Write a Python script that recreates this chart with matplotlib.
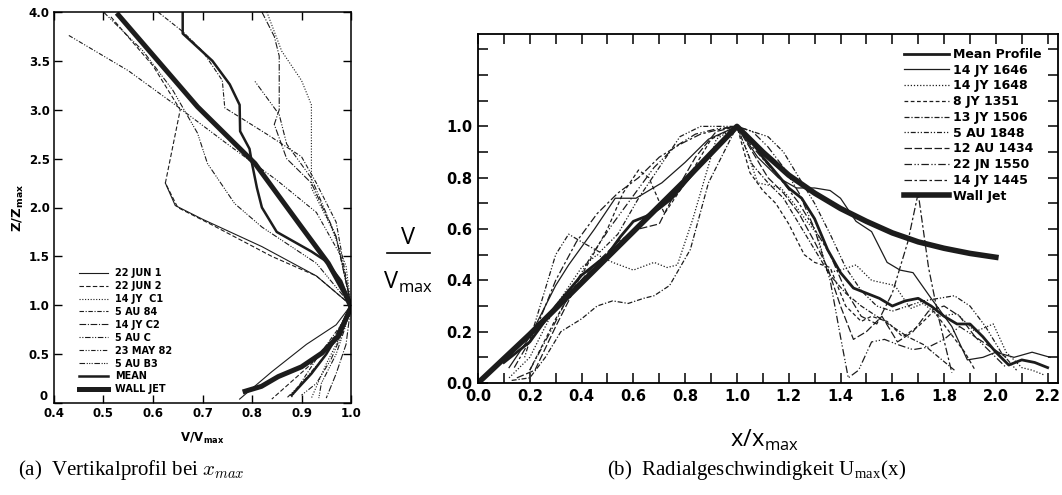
import matplotlib
matplotlib.use("Agg")
import matplotlib.pyplot as plt
from matplotlib.lines import Line2D
from matplotlib.ticker import MultipleLocator, FuncFormatter

plt.rcParams['font.family'] = ['DejaVu Sans']
plt.rcParams['mathtext.fontset'] = 'cm'

INK = '#1c1c1c'

# ---------------------------------------------------------------- (a) vertical profile data  (V/Vmax, Z/Zmax)
jun22_1_v = [0.625, 0.645, 0.70, 0.82, 0.93, 1.00, 0.97, 0.91, 0.84, 0.775]
jun22_1_z = [2.25, 2.02, 1.88, 1.60, 1.30, 1.00, 0.80, 0.60, 0.32, 0.04]
jun22_2_v = [0.515, 0.60, 0.655, 0.625, 0.65, 0.72, 0.84, 0.93, 1.00, 0.97, 0.92, 0.84]
jun22_2_z = [3.95, 3.45, 3.00, 2.25, 2.00, 1.82, 1.50, 1.30, 1.00, 0.70, 0.40, 0.04]
jyc1_v = [0.83, 0.86, 0.90, 0.92, 0.92, 0.92, 0.96, 0.99, 1.00, 0.98, 0.95, 0.92]
jyc1_z = [4.00, 3.60, 3.30, 3.05, 2.60, 2.20, 1.80, 1.40, 1.00, 0.70, 0.40, 0.05]
au84_v = [0.61, 0.66, 0.70, 0.74, 0.745, 0.83, 0.90, 0.93, 0.97, 1.00, 0.98, 0.93, 0.88]
au84_z = [4.00, 3.80, 3.60, 3.30, 3.02, 2.75, 2.52, 2.25, 1.85, 1.00, 0.80, 0.45, 0.06]
jyc2_v = [0.82, 0.845, 0.855, 0.855, 0.845, 0.87, 0.92, 0.97, 1.00, 0.99, 0.97, 0.95]
jyc2_z = [4.00, 3.75, 3.55, 3.00, 2.85, 2.50, 2.25, 1.70, 1.00, 0.60, 0.30, 0.05]
auc_v = [0.806, 0.855, 0.87, 0.92, 0.97, 1.00, 0.985, 0.96, 0.93, 0.90]
auc_z = [3.29, 2.95, 2.65, 2.30, 1.70, 1.00, 0.75, 0.45, 0.20, 0.08]
may82_v = [0.43, 0.55, 0.645, 0.75, 0.85, 0.93, 0.98, 1.00, 0.98, 0.95, 0.90, 0.87]
may82_z = [3.76, 3.40, 3.05, 2.65, 2.28, 1.95, 1.50, 1.00, 0.80, 0.50, 0.20, 0.05]
aub3_v = [0.50, 0.58, 0.64, 0.69, 0.71, 0.765, 0.82, 0.93, 1.00, 0.99, 0.97, 0.94, 0.935]
aub3_z = [4.00, 3.60, 3.20, 2.76, 2.45, 2.04, 1.80, 1.43, 1.00, 0.80, 0.50, 0.20, 0.05]
mean_v = [0.66, 0.66, 0.72, 0.755, 0.775, 0.776, 0.795, 0.80, 0.81, 0.82, 0.85, 0.92, 0.95, 0.98, 1.00,
          0.98, 0.95, 0.92, 0.88]
mean_z = [4.00, 3.78, 3.50, 3.26, 3.05, 2.78, 2.60, 2.45, 2.20, 2.00, 1.75, 1.55, 1.45, 1.25, 1.00,
          0.75, 0.50, 0.30, 0.08]
wj_v = [0.53, 0.69, 0.806, 0.90, 0.954, 0.988, 1.00, 0.974, 0.941, 0.90, 0.853, 0.819, 0.786]
wj_z = [3.97, 3.03, 2.45, 1.80, 1.43, 1.12, 0.98, 0.68, 0.51, 0.37, 0.27, 0.17, 0.12]

# ---------------------------------------------------------------- (b) radial profile data  (x/xmax, V/Vmax)
mp_x = [0.10, 0.20, 0.30, 0.40, 0.50, 0.55, 0.60, 0.65, 0.70, 0.75, 0.80, 0.90, 1.00, 1.05, 1.10, 1.20, 1.25,
        1.30, 1.35, 1.40, 1.45, 1.50, 1.55, 1.60, 1.65, 1.70, 1.75, 1.80, 1.85, 1.90, 1.95, 2.00, 2.05, 2.10,
        2.15, 2.20]
mp_y = [0.08, 0.16, 0.30, 0.42, 0.50, 0.57, 0.63, 0.65, 0.68, 0.72, 0.78, 0.90, 1.00, 0.95, 0.88, 0.76, 0.72,
        0.64, 0.52, 0.43, 0.37, 0.35, 0.33, 0.30, 0.32, 0.33, 0.30, 0.26, 0.23, 0.23, 0.18, 0.12, 0.07, 0.09,
        0.08, 0.06]
jy1646_x = [0.12, 0.20, 0.30, 0.35, 0.45, 0.53, 0.61, 0.71, 0.80, 0.89, 1.00, 1.08, 1.16, 1.23, 1.30, 1.36,
            1.40, 1.46, 1.52, 1.58, 1.63, 1.68, 1.75, 1.83, 1.89, 1.95, 2.00, 2.07, 2.14, 2.21]
jy1646_y = [0.06, 0.18, 0.38, 0.46, 0.60, 0.72, 0.72, 0.78, 0.86, 0.95, 1.00, 0.88, 0.80, 0.76, 0.76, 0.75,
            0.72, 0.63, 0.59, 0.47, 0.44, 0.43, 0.33, 0.22, 0.09, 0.10, 0.12, 0.10, 0.12, 0.10]
jy1648_x = [0.12, 0.20, 0.30, 0.40, 0.46, 0.52, 0.60, 0.68, 0.73, 0.77, 0.83, 0.92, 1.00, 1.04, 1.08, 1.17,
            1.22, 1.27, 1.31, 1.35, 1.40, 1.46, 1.52, 1.61, 1.67, 1.72, 1.78, 1.85, 1.92, 1.99, 2.04, 2.10,
            2.14, 2.19]
jy1648_y = [0.02, 0.10, 0.30, 0.45, 0.50, 0.47, 0.44, 0.47, 0.45, 0.46, 0.64, 0.95, 1.00, 0.90, 0.78, 0.76,
            0.70, 0.63, 0.58, 0.43, 0.44, 0.46, 0.40, 0.38, 0.29, 0.31, 0.26, 0.27, 0.20, 0.23, 0.12, 0.06,
            0.05, 0.03]
jy1351_x = [0.20, 0.30, 0.40, 0.50, 0.56, 0.62, 0.66, 0.72, 0.80, 0.90, 1.00, 1.05, 1.10, 1.15, 1.20, 1.26,
            1.30, 1.36, 1.42, 1.48, 1.52, 1.58, 1.64, 1.70, 1.76, 1.82, 1.88, 1.92]
jy1351_y = [0.05, 0.25, 0.42, 0.60, 0.74, 0.83, 0.80, 0.66, 0.78, 0.95, 1.00, 0.82, 0.75, 0.70, 0.62, 0.50,
            0.47, 0.45, 0.30, 0.24, 0.26, 0.24, 0.18, 0.22, 0.28, 0.20, 0.12, 0.05]
jy1506_x = [0.13, 0.20, 0.26, 0.32, 0.40, 0.46, 0.52, 0.58, 0.64, 0.68, 0.74, 0.82, 0.89, 1.00, 1.06, 1.12,
            1.18, 1.24, 1.30, 1.36, 1.42, 1.48, 1.54, 1.60, 1.66, 1.72, 1.78, 1.84]
jy1506_y = [0.01, 0.02, 0.10, 0.20, 0.25, 0.30, 0.32, 0.31, 0.33, 0.34, 0.38, 0.52, 0.78, 1.00, 0.85, 0.78,
            0.72, 0.62, 0.52, 0.42, 0.35, 0.30, 0.26, 0.22, 0.18, 0.15, 0.10, 0.05]
au1848_x = [0.18, 0.24, 0.30, 0.35, 0.40, 0.47, 0.54, 0.62, 0.70, 0.78, 0.86, 0.93, 1.00, 1.06, 1.12, 1.18,
            1.24, 1.30, 1.36, 1.42, 1.48, 1.54, 1.60, 1.66, 1.72, 1.78, 1.84, 1.90, 1.96, 2.02, 2.08]
au1848_y = [0.10, 0.30, 0.50, 0.58, 0.55, 0.51, 0.58, 0.72, 0.84, 0.96, 1.00, 1.00, 1.00, 0.98, 0.96, 0.90,
            0.80, 0.70, 0.58, 0.45, 0.36, 0.30, 0.28, 0.30, 0.32, 0.33, 0.34, 0.30, 0.22, 0.12, 0.05]
au1434_x = [0.15, 0.22, 0.30, 0.38, 0.46, 0.54, 0.62, 0.70, 0.76, 0.84, 0.92, 1.00, 1.06, 1.12, 1.18, 1.24,
            1.30, 1.35, 1.40, 1.45, 1.50, 1.56, 1.62, 1.68, 1.74, 1.80, 1.86, 1.92, 1.98, 2.04]
au1434_y = [0.02, 0.05, 0.22, 0.38, 0.47, 0.55, 0.60, 0.62, 0.74, 0.88, 0.98, 1.00, 0.90, 0.80, 0.74, 0.66,
            0.55, 0.45, 0.30, 0.17, 0.20, 0.26, 0.16, 0.20, 0.28, 0.30, 0.26, 0.18, 0.14, 0.10]
jn1550_x = [0.20, 0.28, 0.36, 0.44, 0.52, 0.60, 0.68, 0.76, 0.84, 0.92, 1.00, 1.06, 1.12, 1.18, 1.24, 1.30,
            1.36, 1.40, 1.43, 1.47, 1.52, 1.57, 1.62, 1.68, 1.74, 1.80, 1.86, 1.92, 1.98, 2.04]
jn1550_y = [0.05, 0.20, 0.36, 0.50, 0.62, 0.73, 0.84, 0.92, 0.97, 0.99, 1.00, 0.98, 0.92, 0.84, 0.74, 0.60,
            0.40, 0.18, 0.02, 0.05, 0.16, 0.17, 0.15, 0.13, 0.14, 0.17, 0.22, 0.18, 0.12, 0.06]
jy1445_x = [0.14, 0.22, 0.30, 0.38, 0.46, 0.54, 0.62, 0.70, 0.78, 0.86, 0.94, 1.00, 1.06, 1.12, 1.18, 1.24,
            1.30, 1.36, 1.42, 1.48, 1.54, 1.60, 1.66, 1.70, 1.74, 1.78, 1.83]
jy1445_y = [0.06, 0.20, 0.40, 0.55, 0.66, 0.74, 0.80, 0.88, 0.93, 0.97, 0.99, 1.00, 0.92, 0.85, 0.78, 0.70,
            0.60, 0.50, 0.36, 0.26, 0.23, 0.35, 0.55, 0.74, 0.45, 0.25, 0.04]
wall_x = [0.0, 0.2, 0.4, 0.6, 0.8, 1.0, 1.1, 1.2, 1.3, 1.4, 1.5, 1.6, 1.7, 1.8, 1.9, 2.0]
wall_y = [0.0, 0.19, 0.39, 0.59, 0.79, 1.0, 0.90, 0.81, 0.74, 0.68, 0.63, 0.585, 0.55, 0.525, 0.505, 0.49]

left_series = [
    ("22 JUN 1", jun22_1_v, jun22_1_z, '-', 0.8),
    ("22 JUN 2", jun22_2_v, jun22_2_z, (0, (4, 2)), 0.8),
    ("14 JY  C1", jyc1_v, jyc1_z, (0, (1, 1.5)), 0.8),
    ("5 AU 84", au84_v, au84_z, (0, (4, 1.5, 1, 1.5)), 0.8),
    ("14 JY C2", jyc2_v, jyc2_z, (0, (6, 1.5, 1, 1.5)), 0.8),
    ("5 AU C", auc_v, auc_z, (0, (1, 1.5, 1, 1.5, 5, 1.5)), 0.8),
    ("23 MAY 82", may82_v, may82_z, (0, (4, 1.5, 1, 1.5, 1, 1.5)), 0.8),
    ("5 AU B3", aub3_v, aub3_z, (0, (5, 1.5, 1, 1.2, 1, 1.2, 1, 1.5)), 0.8),
    ("MEAN", mean_v, mean_z, '-', 1.8),
    ("WALL JET", wj_v, wj_z, '-', 3.6),
]

right_series = [
    ("Mean Profile", mp_x, mp_y, '-', 2.0),
    ("14 JY 1646", jy1646_x, jy1646_y, '-', 0.9),
    ("14 JY 1648", jy1648_x, jy1648_y, (0, (1, 1.5)), 0.9),
    ("8 JY 1351", jy1351_x, jy1351_y, (0, (3, 2)), 0.9),
    ("13 JY 1506", jy1506_x, jy1506_y, (0, (4, 1.5, 1, 1.5)), 0.9),
    ("5 AU 1848", au1848_x, au1848_y, (0, (1, 1.5, 1, 1.5, 4, 1.5)), 0.9),
    ("12 AU 1434", au1434_x, au1434_y, (0, (6, 2)), 0.9),
    ("22 JN 1550", jn1550_x, jn1550_y, (0, (6, 2, 1, 1.5, 1, 2)), 0.9),
    ("14 JY 1445", jy1445_x, jy1445_y, (0, (6, 2, 2, 2)), 0.9),
    ("Wall Jet", wall_x, wall_y, '-', 4.0),
]

fig = plt.figure(figsize=(10.62, 4.95), dpi=100)

#-----------------------------------------------------------------------------------------------------------------------
ax1 = fig.add_axes([54 / 1062, 1 - 403 / 495, 297 / 1062, 391 / 495])
for name, vx, vz, ls, lw in left_series:
    ax1.plot(vx, vz, color=INK, linestyle=ls, linewidth=lw, label=name)
ax1.set_xlim(0.4, 1.0)
ax1.set_ylim(0, 4.0)
ax1.xaxis.set_major_locator(MultipleLocator(0.1))
ax1.yaxis.set_major_locator(MultipleLocator(0.5))
ax1.xaxis.set_major_formatter(FuncFormatter(lambda v, p: "%.1f" % v))
# the "0" of the z axis is drawn separately, a little raised above the 0.4 label
ax1.yaxis.set_major_formatter(FuncFormatter(lambda v, p: "" if abs(v) < 1e-9 else "%.1f" % v))
ax1.tick_params(direction='in', top=True, right=True, length=6, width=1, labelsize=8.5, pad=3)
for lab in ax1.get_xticklabels() + ax1.get_yticklabels():
    lab.set_fontweight('bold')
ax1.text(-0.022, 0.0, "0", transform=ax1.transAxes, ha='right', va='bottom', fontsize=8.5, fontweight='bold')
for sp in ax1.spines.values():
    sp.set_linewidth(1.1)
ax1.set_xlabel("V/V$_\\mathregular{max}$", fontsize=8.5, fontweight='bold', labelpad=8)
ax1.set_ylabel("Z/Z$_\\mathregular{max}$", fontsize=9.5, fontweight='bold', labelpad=2)
leg1 = ax1.legend(loc='upper left', bbox_to_anchor=(0.085, 0.345), frameon=False, fontsize=7,
                  handlelength=3.0, handletextpad=0.7, labelspacing=0.3, borderpad=0, borderaxespad=0)
for t in leg1.get_texts():
    t.set_fontweight('bold')

#-----------------------------------------------------------------------------------------------------------------------
ax2 = fig.add_axes([478 / 1062, 1 - 383 / 495, 580 / 1062, 349 / 495])
for name, rx, ry, ls, lw in right_series:
    ax2.plot(rx, ry, color=INK, linestyle=ls, linewidth=lw, label=name)
ax2.set_xlim(0, 2.24)
ax2.set_ylim(0, 1.36)
ax2.xaxis.set_major_locator(MultipleLocator(0.2))
ax2.xaxis.set_minor_locator(MultipleLocator(0.1))
ax2.set_yticks([0.0, 0.2, 0.4, 0.6, 0.8, 1.0])
ax2.yaxis.set_minor_locator(MultipleLocator(0.1))
ax2.xaxis.set_major_formatter(FuncFormatter(lambda v, p: "%.1f" % v))
ax2.yaxis.set_major_formatter(FuncFormatter(lambda v, p: "%.1f" % v))
ax2.tick_params(which='both', direction='in', top=True, right=True, length=7, width=1.1)
ax2.tick_params(which='major', labelsize=10.5, pad=4)
for lab in ax2.get_xticklabels() + ax2.get_yticklabels():
    lab.set_fontweight('bold')
for sp in ax2.spines.values():
    sp.set_linewidth(1.3)
leg2 = ax2.legend(loc='upper left', bbox_to_anchor=(0.735, 0.96), frameon=False, fontsize=9,
                  handlelength=3.6, handletextpad=0.3, labelspacing=0.22, borderpad=0, borderaxespad=0)
for t in leg2.get_texts():
    t.set_fontweight('bold')

# axis titles of (b): x/xmax below, V over Vmax as a fraction at the left
fig.text(765 / 1062, 1 - 440 / 495, "x/x$_\\mathregular{max}$", ha='center', va='center',
         fontsize=17, family='Open Sans')
fig.text(408 / 1062, 1 - 238 / 495, "V", ha='center', va='center', fontsize=17, family='Open Sans')
fig.text(408 / 1062, 1 - 282 / 495, "V$_\\mathregular{max}$", ha='center', va='center', fontsize=17,
         family='Open Sans')
fig.add_artist(Line2D([387 / 1062, 430 / 1062], [1 - 253 / 495, 1 - 253 / 495], color='black', linewidth=1.2))

# sub captions
fig.text(18 / 1062, 1 - 470 / 495, "(a)  Vertikalprofil bei $x_{max}$", ha='left', va='center', fontsize=15,
         family='Liberation Serif')
fig.text(607 / 1062, 1 - 470 / 495, "(b)  Radialgeschwindigkeit U$_\\mathregular{max}$(x)", ha='left', va='center',
         fontsize=15, family='Liberation Serif')

fig.savefig("out.png", dpi=100)
